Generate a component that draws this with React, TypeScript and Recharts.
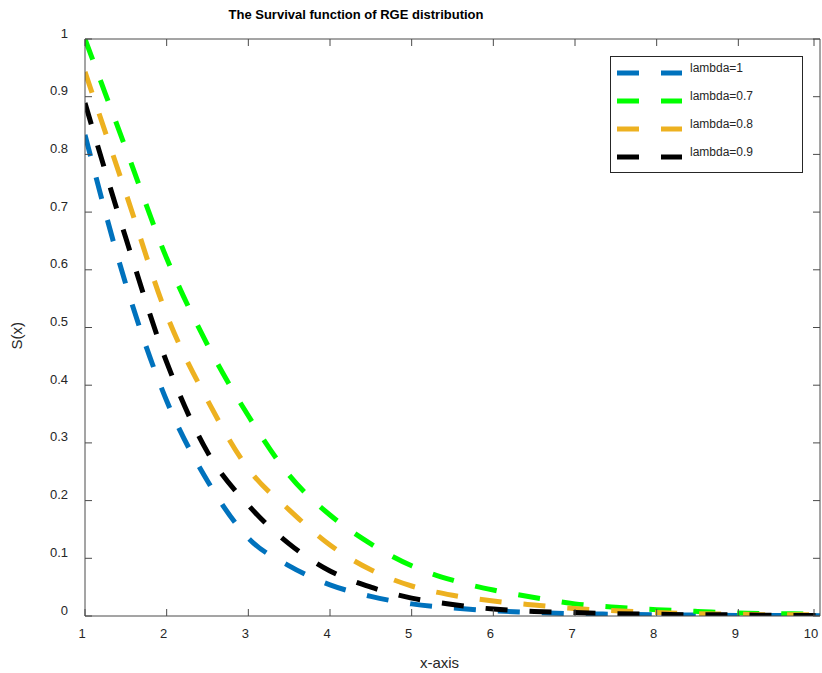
import { Line, LineChart, XAxis, YAxis, Label } from "recharts";

const FONT = '"Liberation Sans", Arial, Helvetica, sans-serif';
const AXIS_COLOR = "#4a4a4a";
const TEXT_COLOR = "#262626";

const xValues = [1, 1.5, 2, 2.5, 3, 3.5, 4, 4.5, 5, 5.5, 6, 6.5, 7, 7.5, 8, 8.5, 9, 9.5, 10];
const lambda1 = [0.834, 0.575, 0.373, 0.234, 0.135, 0.087, 0.054, 0.034, 0.021, 0.014, 0.009, 0.006, 0.004, 0.003, 0.002, 0.0015, 0.001, 0.001, 0.0005];
const lambda07 = [1.0, 0.81, 0.62, 0.47, 0.347, 0.244, 0.175, 0.125, 0.087, 0.062, 0.045, 0.032, 0.021, 0.015, 0.011, 0.008, 0.005, 0.004, 0.003];
const lambda08 = [0.943, 0.733, 0.522, 0.374, 0.255, 0.184, 0.123, 0.08, 0.052, 0.036, 0.026, 0.019, 0.013, 0.009, 0.006, 0.004, 0.003, 0.002, 0.002];
const lambda09 = [0.889, 0.655, 0.44, 0.284, 0.192, 0.125, 0.078, 0.05, 0.031, 0.02, 0.012, 0.008, 0.006, 0.004, 0.003, 0.002, 0.002, 0.001, 0.001];

const xTicks = [1, 2, 3, 4, 5, 6, 7, 8, 9, 10];
const yTicks = [0, 0.1, 0.2, 0.3, 0.4, 0.5, 0.6, 0.7, 0.8, 0.9, 1];

const series = [
  { key: "l1", name: "lambda=1", color: "#0072BD" },
  { key: "l07", name: "lambda=0.7", color: "#00FF00" },
  { key: "l08", name: "lambda=0.8", color: "#EDB120" },
  { key: "l09", name: "lambda=0.9", color: "#000000" },
];

const data = xValues.map((x, i) => ({
  x,
  l1: lambda1[i],
  l07: lambda07[i],
  l08: lambda08[i],
  l09: lambda09[i],
}));

const DASH = "22 22";

function BottomTick({ x, y, payload }: any) {
  return (
    <g>
      <line x1={x} y1={y} x2={x} y2={y - 7} stroke={AXIS_COLOR} />
      <text x={x - 3} y={y + 17} textAnchor="middle" dominantBaseline="central" fontSize={13} fill={TEXT_COLOR} fontFamily={FONT}>
        {payload.value}
      </text>
    </g>
  );
}

function TopTick({ x, y }: any) {
  return <line x1={x} y1={y} x2={x} y2={y + 7} stroke={AXIS_COLOR} />;
}

function LeftTick({ x, y, payload }: any) {
  return (
    <g>
      <line x1={x} y1={y} x2={x + 7} y2={y} stroke={AXIS_COLOR} />
      <text x={x - 17} y={y - 6} textAnchor="end" dominantBaseline="central" fontSize={13} fill={TEXT_COLOR} fontFamily={FONT}>
        {payload.value}
      </text>
    </g>
  );
}

function RightTick({ x, y }: any) {
  return <line x1={x} y1={y} x2={x - 7} y2={y} stroke={AXIS_COLOR} />;
}

function LegendBox() {
  return (
    <svg width={194} height={118} style={{ position: "absolute", left: 610, top: 56 }}>
      <rect x={0.5} y={0.5} width={192} height={116} fill="#fff" stroke={TEXT_COLOR} />
      {series.map((s, i) => (
        <g key={s.key}>
          <line x1={7} x2={72} y1={17 + i * 28} y2={17 + i * 28} stroke={s.color} strokeWidth={5} strokeDasharray={DASH} />
          <text x={80} y={12 + i * 28} dominantBaseline="central" fontSize={12} fill={TEXT_COLOR} fontFamily={FONT}>
            {s.name}
          </text>
        </g>
      ))}
    </svg>
  );
}

export default function App() {
  return (
    <div style={{ position: "fixed", left: 0, top: 0, width: 822, height: 673, background: "#fff" }}>
      <LineChart width={822} height={673} data={data} margin={{ top: 0, right: 0, bottom: 0, left: 0 }}>
        <XAxis
          dataKey="x"
          type="number"
          domain={[1, 10]}
          ticks={xTicks}
          allowDataOverflow
          height={57}
          tickLine={false}
          tickSize={0}
          tickMargin={0}
          stroke={AXIS_COLOR}
          tick={<BottomTick />}
        >
          <Label value="x-axis" position="insideBottom" offset={4} fontSize={15} fill={TEXT_COLOR} fontFamily={FONT} dx={-13} dy={-1} />
        </XAxis>
        <XAxis
          xAxisId="top"
          orientation="top"
          dataKey="x"
          type="number"
          domain={[1, 10]}
          ticks={xTicks}
          allowDataOverflow
          height={39}
          tickLine={false}
          tickSize={0}
          tickMargin={0}
          stroke={AXIS_COLOR}
          tick={<TopTick />}
        />
        <YAxis
          type="number"
          domain={[0, 1]}
          ticks={yTicks}
          allowDataOverflow
          width={85}
          tickLine={false}
          tickSize={0}
          tickMargin={0}
          stroke={AXIS_COLOR}
          tick={<LeftTick />}
        >
          <Label value="S(x)" angle={-90} position="insideLeft" offset={10} dx={7} dy={22} fontSize={15} fill={TEXT_COLOR} fontFamily={FONT} />
        </YAxis>
        <YAxis
          yAxisId="right"
          orientation="right"
          type="number"
          domain={[0, 1]}
          ticks={yTicks}
          allowDataOverflow
          width={2}
          tickLine={false}
          tickSize={0}
          tickMargin={0}
          stroke={AXIS_COLOR}
          tick={<RightTick />}
        />
        {series.map((s) => (
          <Line
            key={s.key}
            dataKey={s.key}
            name={s.name}
            type="monotone"
            stroke={s.color}
            strokeWidth={5}
            strokeDasharray={DASH}
            dot={false}
            activeDot={false}
            isAnimationActive={false}
          />
        ))}
      </LineChart>
      <div
        style={{
          position: "absolute",
          left: 0,
          top: 7,
          width: 712,
          textAlign: "center",
          fontFamily: FONT,
          fontWeight: "bold",
          fontSize: 13,
          color: "#000",
          lineHeight: "16px",
        }}
      >
        The Survival function of RGE distribution
      </div>
      <LegendBox />
    </div>
  );
}
